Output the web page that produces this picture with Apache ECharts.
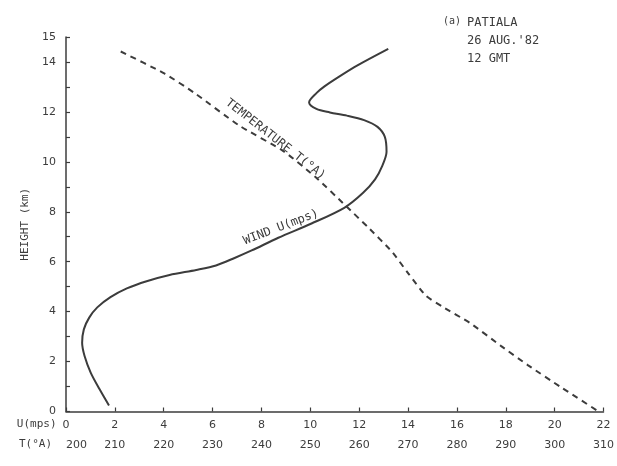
<!DOCTYPE html>
<html>
<head>
<meta charset="utf-8">
<script src="https://cdn.jsdelivr.net/npm/echarts@6/dist/echarts.min.js"></script>
<style>
html,body{margin:0;padding:0;background:#fff;}
#c{width:617px;height:466px;}
</style>
</head>
<body>
<div id="c"></div>
<script>
// Wind profile: U (m/s) vs height (km)
const windU = [1.76,1.37,1.01,0.76,0.66,0.73,0.95,1.28,1.82,2.49,3.30,4.24,5.33,6.14,6.90,7.60,8.69,10.05,11.39,12.15,12.65,12.95,13.12,13.05,12.75,12.20,11.50,10.80,10.25,9.95,10.25,10.58,11.26,11.93,13.19];
const windH = [0.24,0.90,1.56,2.22,2.75,3.29,3.76,4.17,4.58,4.93,5.22,5.47,5.67,5.85,6.15,6.45,6.96,7.53,8.16,8.75,9.30,9.85,10.40,11.00,11.40,11.67,11.85,11.98,12.12,12.38,12.75,13.02,13.46,13.86,14.52];
// Temperature profile: T (deg A) vs height (km)
const tempT = [211.2,220.2,226.35,235.4,244.4,251.0,257.3,261.8,266.7,270.2,273.7,277.2,282.7,289.0,294.5,301.4,309.0];
const tempH = [14.42,13.53,12.75,11.46,10.44,9.40,8.23,7.38,6.40,5.49,4.63,4.18,3.54,2.63,1.86,0.96,0.0];
// Axis ranges
const uRange = [0, 22];
const tRange = [200, 310];
const hRange = [0, 15];
const hLabels = [0,2,4,6,8,10,12,14,15];

const ink = '#3c3c3c';
const fontNum = 'DejaVu Sans';
const fontMono = 'DejaVu Sans Mono';

const chart = echarts.init(document.getElementById('c'), null, {renderer:'canvas'});
const windData = windU.map((u,i)=>[u, windH[i]]);
const tempData = tempT.map((t,i)=>[t, tempH[i]]);

chart.setOption({
  backgroundColor:'#fff',
  animation:false,
  title:[
    {text:'(a)', left:443, top:16, padding:0, textStyle:{fontFamily:fontMono, fontSize:10, color:ink, fontWeight:'normal'}},
    {text:"PATIALA\n26 AUG.'82\n12 GMT", left:467, top:14, padding:0,
     textStyle:{fontFamily:fontMono, fontSize:12, color:ink, fontWeight:'normal', lineHeight:18}}
  ],
  grid:{left:66, right:12, top:37, bottom:54.5, containLabel:false},
  xAxis:[
    {type:'value', min:uRange[0], max:uRange[1], interval:2, position:'bottom',
     name:'U(mps)', nameLocation:'start', nameGap:7,
     nameTextStyle:{fontFamily:fontMono, fontSize:11, color:ink, verticalAlign:'top', padding:[7,0,0,0]},
     axisLine:{show:true, lineStyle:{color:ink, width:1.5}},
     axisTick:{show:true, inside:true, length:4, lineStyle:{color:ink, width:1.2}},
     axisLabel:{margin:8, fontFamily:fontNum, fontSize:11, color:ink},
     splitLine:{show:false}},
    {type:'value', min:tRange[0], max:tRange[1], interval:10, position:'bottom', offset:20,
     name:'T(°A)', nameLocation:'start', nameGap:14,
     nameTextStyle:{fontFamily:fontMono, fontSize:11, color:ink, verticalAlign:'top', padding:[7,0,0,0]},
     axisLine:{show:false}, axisTick:{show:false},
     axisLabel:{margin:8, fontFamily:fontNum, fontSize:11, color:ink, alignMinLabel:'left'},
     splitLine:{show:false}}
  ],
  yAxis:{type:'value', min:hRange[0], max:hRange[1], interval:1,
     name:'HEIGHT (km)', nameLocation:'middle', nameGap:30, nameRotate:90,
     nameTextStyle:{fontFamily:fontMono, fontSize:11, color:ink},
     axisLine:{show:true, lineStyle:{color:ink, width:1.5}},
     axisTick:{show:true, inside:true, length:4, lineStyle:{color:ink, width:1.2}},
     axisLabel:{margin:10, fontFamily:fontNum, fontSize:11, color:ink,
       formatter:v=> hLabels.indexOf(v) >= 0 ? String(v) : '', showMaxLabel:true},
     splitLine:{show:false}},
  series:[
    {name:'Wind', type:'line', xAxisIndex:0, yAxisIndex:0, data:windData, smooth:0.3,
     showSymbol:false, symbol:'none', lineStyle:{color:ink, width:2}},
    {name:'Temperature', type:'line', xAxisIndex:1, yAxisIndex:0, data:tempData, smooth:0.2,
     showSymbol:false, symbol:'none', lineStyle:{color:ink, width:2, type:[6,5]}}
  ]
});

// Curve labels anchored in data coordinates
const tPos = chart.convertToPixel({xAxisIndex:0, yAxisIndex:0}, [8.57, 10.9]);
const wPos = chart.convertToPixel({xAxisIndex:0, yAxisIndex:0}, [8.8, 7.38]);
chart.setOption({
  graphic:[
    {type:'text', x:tPos[0], y:tPos[1], rotation:-38*Math.PI/180,
     style:{text:'TEMPERATURE T(°A)', fontFamily:fontMono, fontSize:12, fill:ink, align:'center', verticalAlign:'middle'}},
    {type:'text', x:wPos[0], y:wPos[1], rotation:21*Math.PI/180,
     style:{text:'WIND U(mps)', fontFamily:fontMono, fontSize:12, fill:ink, align:'center', verticalAlign:'middle'}}
  ]
});
</script>
</body>
</html>
